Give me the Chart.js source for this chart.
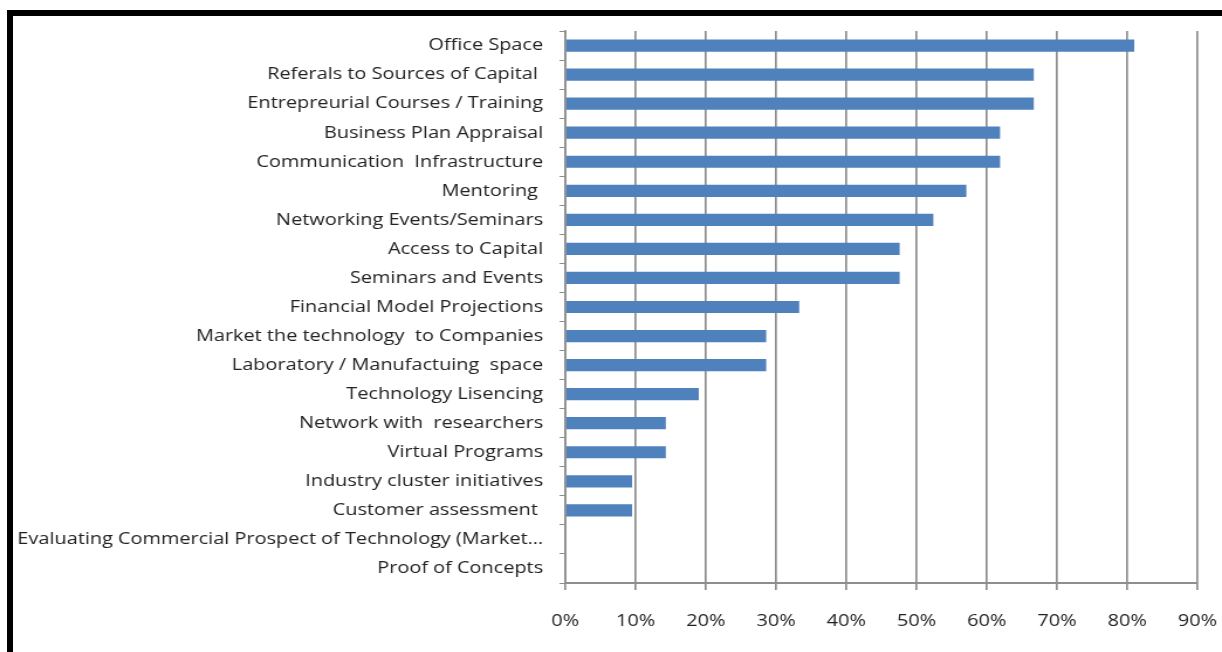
<!DOCTYPE html>
<html>
<head>
<meta charset="utf-8">
<script src="https://cdn.jsdelivr.net/npm/chart.js@4.4.1/dist/chart.umd.min.js"></script>
<style>
    html, body { margin:0; padding:0; background:#fff; overflow:hidden; }
    .wrap { position:relative; width:1222px; height:652px; }
    .frame { position:absolute; left:7px; top:10px; width:1400px; height:800px;
             border-left:6px solid #000; border-top:6px solid #000; }
    canvas { position:absolute; left:0; top:0; }
</style>
</head>
<body>
<div class="wrap">
    <div class="frame"></div>
    <!-- drawn narrow, shown stretched to the full width -->
    <canvas id="servicesChart" width="1044" height="652" style="width:1222px;height:652px"></canvas>
</div>
<script>
// Services offered, share of respondents (%)
const services = [
    'Office Space',
    'Referals to Sources of Capital ',
    'Entrepreurial Courses / Training',
    'Business Plan Appraisal',
    'Communication  Infrastructure',
    'Mentoring ',
    'Networking Events/Seminars',
    'Access to Capital',
    'Seminars and Events',
    'Financial Model Projections',
    'Market the technology  to Companies',
    'Laboratory / Manufactuing  space',
    'Technology Lisencing',
    'Network with  researchers',
    'Virtual Programs',
    'Industry cluster initiatives',
    'Customer assessment ',
    'Evaluating Commercial Prospect of Technology (Market\u2026',
    'Proof of Concepts'
];
const shares = [81, 66.7, 66.7, 61.9, 61.9, 57.1, 52.4, 47.6, 47.6, 33.3, 28.6, 28.6, 19, 14.3, 14.3, 9.5, 9.5, 0, 0];
const axisTicks = [0, 10, 20, 30, 40, 50, 60, 70, 80, 90];

const gridGray = '#8e8e8e';
const font = { family: '"Open Sans", Lato, sans-serif', size: 17 };

new Chart(document.getElementById('servicesChart'), {
    type: 'bar',
    data: {
        labels: services,
        datasets: [{ data: shares, backgroundColor: '#4f81bd',
            barPercentage: 0.42, categoryPercentage: 1 }]
    },
    options: {
        indexAxis: 'y',
        responsive: false,
        animation: false,
        events: [],
        layout: { padding: { top: 31, right: 21, left: 0, bottom: 0 } },
        plugins: { legend: { display: false }, tooltip: { enabled: false } },
        scales: {
            x: {
                min: axisTicks[0], max: axisTicks[axisTicks.length - 1],
                afterFit: s => { s.height = 69; s.paddingRight = 0; },
                afterBuildTicks: s => { s.ticks = axisTicks.map(v => ({ value: v })); },
                ticks: { callback: v => v + '%', color: '#222', font, padding: 21, maxRotation: 0 },
                grid: { color: gridGray, lineWidth: 1.7, tickLength: 7 },
                border: { color: gridGray, width: 2 }
            },
            y: {
                afterFit: s => { s.width = 483; },
                ticks: { color: '#222', font, padding: 14, autoSkip: false },
                grid: { drawOnChartArea: false, color: gridGray, lineWidth: 1, tickLength: 5 },
                border: { color: gridGray, width: 1.7 }
            }
        }
    }
});
</script>
</body>
</html>
